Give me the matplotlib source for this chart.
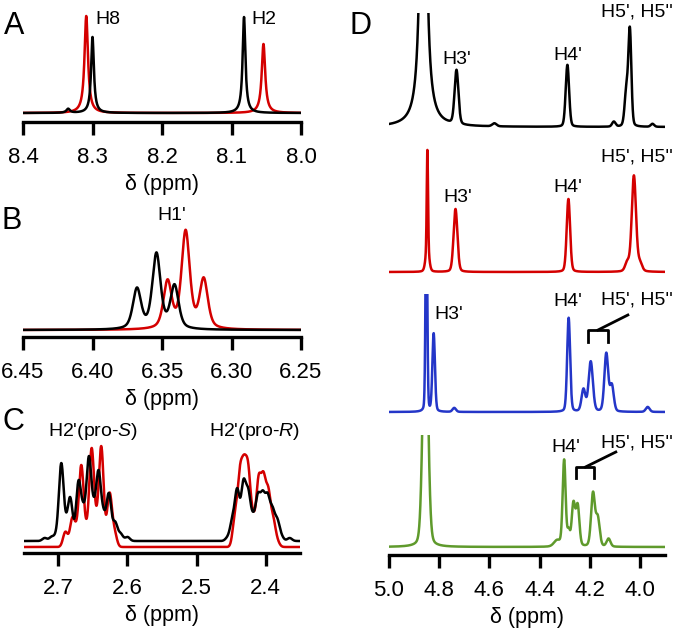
import numpy as np
import matplotlib
matplotlib.use("Agg")
import matplotlib.pyplot as plt

plt.rcParams['font.family'] = ['Liberation Sans', 'DejaVu Sans']
plt.rcParams['mathtext.fontset'] = 'custom'
plt.rcParams['mathtext.rm'] = 'Liberation Sans'
plt.rcParams['mathtext.it'] = 'Liberation Sans:italic'

W, H = 677, 630
RED = '#d40000'
BLUE = '#2436c8'
GREEN = '#5f9a2c'

# ---- peak tables: centre (ppm), height (arb.), half width (ppm) ----
# A: H8 / H2
a_black_ppm = [8.335, 8.300, 8.082]
a_black_h = [4, 76, 96]
a_black_w = [0.003, 0.0024, 0.0024]
a_red_ppm = [8.309, 8.054]
a_red_h = [97, 69]
a_red_w = [0.003, 0.003]

# B: H1'
b_black_ppm = [6.368, 6.354, 6.341]
b_black_h = [40, 75, 43]
b_red_ppm = [6.346, 6.333, 6.320]
b_red_h = [47, 97, 49]

# C: H2' pro-S / pro-R (lines of the multiplets)
c_red_ppm = [2.690, 2.680, 2.674, 2.667, 2.660, 2.652, 2.645, 2.638, 2.632, 2.626, 2.619,
             2.444, 2.437, 2.431, 2.425, 2.418, 2.410, 2.403, 2.396, 2.389, 2.383]
c_red_h = [15, 27, 12, 79, 13, 96, 18, 98, 3, 52, 14,
           30, 64, 65, 67, 25, 63, 62, 50, 25, 5]
c_black_ppm = [2.720, 2.710, 2.703, 2.696, 2.689, 2.683, 2.677, 2.671, 2.664,
               2.656, 2.649, 2.642, 2.635, 2.627, 2.618, 2.610, 2.600,
               2.455, 2.448, 2.441, 2.432, 2.425, 2.418, 2.411, 2.404,
               2.397, 2.390, 2.383, 2.377, 2.365]
c_black_h = [3, 4, 5, 76, 11, 41, 2, 57, 27, 80, 27, 65, 23, 46, 18, 7, 4,
             3, 19, 49, 55, 44, 19, 41, 41, 40, 28, 19, 4, 3]

# D: four samples
d_black_ppm = [4.863, 4.731, 4.289, 4.054, 4.040, 4.104, 4.58, 3.95]
d_black_h = [570, 54, 62, 35, 95, 5, 3, 3]
d_black_w = [0.010, 0.009, 0.008, 0.008, 0.007, 0.008, 0.01, 0.008]
d_black_eta = [1, 0.2, 0.2, 0.2, 0.2, 0.2, 0.2, 0.2]

d_red_ppm = [4.847, 4.847, 4.735, 4.285, 4.050, 4.024, 4.000]
d_red_h = [100, 22, 63, 73, 9, 96, 8]
d_red_w = [0.003, 0.008, 0.009, 0.008, 0.010, 0.010, 0.010]

d_blue_ppm = [4.851, 4.822, 4.740, 4.284, 4.225, 4.196, 4.134, 4.112, 3.969]
d_blue_h = [220, 78, 4, 94, 22, 50, 58, 26, 5]
d_blue_w = [0.004, 0.006, 0.008, 0.007, 0.009, 0.010, 0.009, 0.009, 0.009]

d_green_ppm = [4.855, 4.330, 4.302, 4.284, 4.265, 4.248, 4.187, 4.168, 4.125]
d_green_h = [250, 6, 86, 14, 42, 40, 53, 28, 8]
d_green_w = [0.012, 0.015, 0.007, 0.006, 0.008, 0.008, 0.009, 0.009, 0.009]


def spectrum(x, ppm, h, w, eta=1.0):
    # pseudo-Voigt lines: eta=1 Lorentzian, eta=0 Gaussian (w = half width)
    n = len(ppm)
    ppm = np.asarray(ppm, dtype=float)[:, None]
    h = np.asarray(h, dtype=float)[:, None]
    w = np.broadcast_to(np.asarray(w, dtype=float), (n,))[:, None]
    eta = np.broadcast_to(np.asarray(eta, dtype=float), (n,))[:, None]
    d = x[None, :] - ppm
    lor = w ** 2 / (d ** 2 + w ** 2)
    gau = np.exp(-np.log(2) * (d / w) ** 2)
    return (h * (eta * lor + (1 - eta) * gau)).sum(axis=0)


def rect(x0, x1, ytop, ybot):
    return [x0 / W, 1 - ybot / H, (x1 - x0) / W, (ybot - ytop) / H]


def style_axis(ax, show_x=True):
    for s in ['top', 'right', 'left']:
        ax.spines[s].set_visible(False)
    ax.set_yticks([])
    if show_x:
        ax.spines['bottom'].set_linewidth(2.4)
        ax.tick_params(axis='x', direction='out', length=9, width=2.4,
                       labelsize=16, pad=9)
        ax.set_xlabel('δ (ppm)', fontsize=15.5, labelpad=4)
    else:
        ax.spines['bottom'].set_visible(False)
        ax.set_xticks([])


fig = plt.figure(figsize=(W / 100, H / 100), dpi=100)
lw = 1.8
fs = 14

# ---- A ----
axA = fig.add_axes(rect(23, 301, 5, 122))
x = np.linspace(8.4, 8.0, 3000)
axA.plot(x, spectrum(x, a_red_ppm, a_red_h, a_red_w), color=RED, lw=lw)
axA.plot(x, spectrum(x, a_black_ppm, a_black_h, a_black_w), color='black', lw=lw)
axA.set_xlim(8.4, 8.0)
axA.set_ylim(-9, 108)
axA.set_xticks([8.4, 8.3, 8.2, 8.1, 8.0])
axA.set_xticklabels(['8.4', '8.3', '8.2', '8.1', '8.0'])
style_axis(axA)
axA.text(8.278, 93, 'H8', ha='center', va='center', fontsize=fs)
axA.text(8.053, 93, 'H2', ha='center', va='center', fontsize=fs)

# ---- B ----
axB = fig.add_axes(rect(23, 301, 200, 337))
x = np.linspace(6.45, 6.25, 3000)
axB.plot(x, spectrum(x, b_red_ppm, b_red_h, 0.0035, 0.5), color=RED, lw=lw)
axB.plot(x, spectrum(x, b_black_ppm, b_black_h, 0.0035, 0.5), color='black', lw=lw)
axB.set_xlim(6.45, 6.25)
axB.set_ylim(-7, 130)
axB.set_xticks([6.45, 6.40, 6.35, 6.30, 6.25])
axB.set_xticklabels(['6.45', '6.40', '6.35', '6.30', '6.25'])
style_axis(axB)
axB.text(6.343, 114, "H1'", ha='center', va='center', fontsize=fs)

# ---- C ----
axC = fig.add_axes(rect(24, 300, 440, 553))
x = np.linspace(2.75, 2.35, 3000)
axC.plot(x, spectrum(x, c_red_ppm, c_red_h, 0.004, 0.0), color=RED, lw=lw)
axC.plot(x, spectrum(x, c_black_ppm, c_black_h, 0.004, 0.0) + 6, color='black', lw=lw)
axC.set_xlim(2.75, 2.35)
axC.set_ylim(-6, 107)
axC.set_xticks([2.7, 2.6, 2.5, 2.4])
axC.set_xticklabels(['2.7', '2.6', '2.5', '2.4'])
style_axis(axC)
axC.text(2.650, 115, "H2'(pro-$\\mathit{S}$)", ha='center', va='center', fontsize=fs)
axC.text(2.416, 115, "H2'(pro-$\\mathit{R}$)", ha='center', va='center', fontsize=fs)

# ---- D ----
xD = np.linspace(5.0, 3.9, 4000)
d_traces = [
    ('black', d_black_ppm, d_black_h, d_black_w, d_black_eta, 13, 135, 114),
    (RED, d_red_ppm, d_red_h, d_red_w, 0.2, 140, 280, 132),
    (BLUE, d_blue_ppm, d_blue_h, d_blue_w, 0.2, 294, 420, 118),
    (GREEN, d_green_ppm, d_green_h, d_green_w, 0.2, 435, 555, 112),
]
d_axes = []
for i, (c, ppm, h, w, eta, top, bot, ymax) in enumerate(d_traces):
    ax = fig.add_axes(rect(389, 665, top, bot))
    ax.plot(xD, spectrum(xD, ppm, h, w, eta), color=c, lw=lw)
    ax.set_xlim(5.0, 3.9)
    ax.set_ylim(-8, ymax)
    last = i == len(d_traces) - 1
    style_axis(ax, show_x=last)
    if last:
        ax.set_xticks([5.0, 4.8, 4.6, 4.4, 4.2, 4.0])
        ax.set_xticklabels(['5.0', '4.8', '4.6', '4.4', '4.2', '4.0'])
    d_axes.append(ax)

axDk, axDr, axDb, axDg = d_axes
kw = dict(ha='center', va='center', fontsize=fs)
axDk.text(4.731, 67, "H3'", **kw)
axDk.text(4.289, 72, "H4'", **kw)
axDk.text(4.012, 115, "H5', H5''", **kw)
axDr.text(4.727, 74, "H3'", **kw)
axDr.text(4.289, 84, "H4'", **kw)
axDr.text(4.012, 115, "H5', H5''", **kw)
axDb.text(4.76, 97, "H3'", **kw)
axDb.text(4.289, 110, "H4'", **kw)
axDb.text(4.012, 112, "H5', H5''", **kw)
axDg.text(4.297, 99, "H4'", **kw)
axDg.text(4.012, 104, "H5', H5''", **kw)

# brackets
axDb.plot([4.205, 4.205, 4.129, 4.129], [70, 82, 82, 70], color='black', lw=2, clip_on=False)
axDb.plot([4.167, 4.048], [82, 97], color='black', lw=2, clip_on=False)
axDg.plot([4.253, 4.253, 4.181, 4.181], [69, 80, 80, 69], color='black', lw=2, clip_on=False)
axDg.plot([4.217, 4.096], [80, 95], color='black', lw=2, clip_on=False)

# panel letters
for lab, px, py in [('A', 14, 26), ('B', 12, 221), ('C', 13, 422), ('D', 361, 26)]:
    fig.text(px / W, 1 - py / H, lab, ha='center', va='center', fontsize=22)

fig.savefig('out.png', dpi=100)
